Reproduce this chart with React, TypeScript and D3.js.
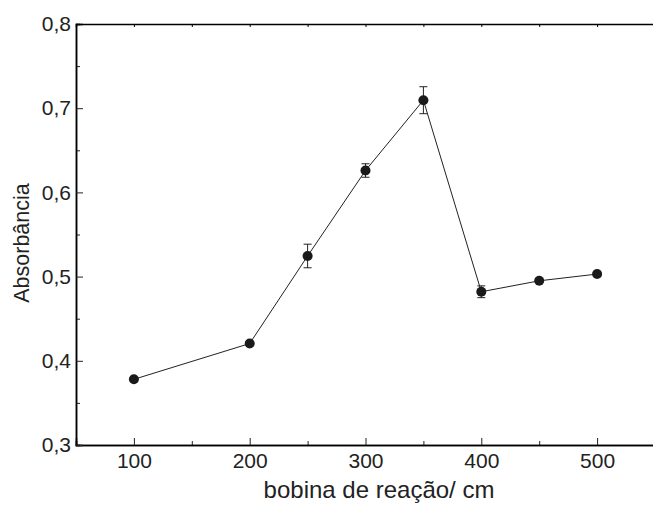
import * as d3 from 'd3';
import React, { useRef, useEffect } from 'react';

// coil length (cm) vs absorbance, with std deviation
const bobina = [100, 200, 250, 300, 350, 400, 450, 500];
const absorbancia = [0.378, 0.4205, 0.5245, 0.626, 0.7095, 0.482, 0.495, 0.503];
const erro = [0.002, 0.002, 0.014, 0.008, 0.016, 0.007, 0.002, 0.002];
const xTicks = [100, 200, 300, 400, 500];
const yTicks = [0.3, 0.4, 0.5, 0.6, 0.7, 0.8];

const width = 653;
const height = 506;
const marginLeft = 76;
const marginTop = 24;
const marginBottom = 61;
const plotRight = 655;
const font = 'Liberation Sans, Arial, sans-serif';

const App = () => {
  const gx = useRef<SVGGElement>(null);
  const gy = useRef<SVGGElement>(null);
  const gxTop = useRef<SVGGElement>(null);

  const x = d3.scaleLinear([50, 550], [marginLeft, plotRight]);
  const y = d3.scaleLinear([0.3, 0.8], [height - marginBottom, marginTop]);
  const line = d3.line<number>((d, i) => x(bobina[i]), (d) => y(d));

  useEffect(() => {
    const ax = d3.select(gx.current!);
    ax.selectAll('*').remove();
    // minor ticks
    ax.call(d3.axisBottom(x).tickValues(d3.range(150, 551, 100)).tickSize(-4).tickFormat(() => ''));
    ax.append('g').call(d3.axisBottom(x).tickValues(xTicks).tickSize(-7).tickPadding(8).tickFormat(d3.format('d')));
    ax.selectAll('.domain').attr('stroke-width', 1.5);
    ax.selectAll('line').attr('stroke', '#222');
    ax.selectAll('text').attr('font-family', font).attr('font-size', 21).attr('fill', '#222');

    const ay = d3.select(gy.current!);
    ay.selectAll('*').remove();
    ay.call(d3.axisLeft(y).tickValues(d3.range(0.35, 0.8, 0.1)).tickSize(-4).tickFormat(() => ''));
    ay.append('g').call(d3.axisLeft(y).tickValues(yTicks).tickSize(-7).tickPadding(5)
      .tickFormat((d) => d3.format('.1f')(d as number).replace('.', ',')));
    ay.selectAll('.domain').attr('stroke-width', 1.5);
    ay.selectAll('line').attr('stroke', '#222');
    ay.selectAll('text').attr('font-family', font).attr('font-size', 21).attr('fill', '#222');

    const at = d3.select(gxTop.current!);
    at.selectAll('*').remove();
    at.call(d3.axisTop(x).tickValues(d3.range(100, 551, 50)).tickSize(-3).tickFormat(() => ''));
    at.selectAll('.domain').attr('stroke-width', 1.5);
  }, []);

  return (
    <svg width={width} height={height} style={{ position: 'absolute', left: 0, top: 0 }}>
      <rect width={width} height={height} fill="white" />
      <g ref={gx} transform={`translate(0,${height - marginBottom})`} />
      <g ref={gy} transform={`translate(${marginLeft},0)`} />
      <g ref={gxTop} transform={`translate(0,${marginTop})`} />
      <path fill="none" stroke="#222" strokeWidth="1" d={line(absorbancia) ?? ''} />
      <g stroke="#222" strokeWidth="1">
        {bobina.map((b, i) => (
          <g key={b}>
            <line x1={x(b)} x2={x(b)} y1={y(absorbancia[i] - erro[i])} y2={y(absorbancia[i] + erro[i])} />
            <line x1={x(b) - 4} x2={x(b) + 4} y1={y(absorbancia[i] - erro[i])} y2={y(absorbancia[i] - erro[i])} />
            <line x1={x(b) - 4} x2={x(b) + 4} y1={y(absorbancia[i] + erro[i])} y2={y(absorbancia[i] + erro[i])} />
          </g>
        ))}
      </g>
      <g fill="#1a1a1a">
        {bobina.map((b, i) => (
          <circle key={b} cx={x(b)} cy={y(absorbancia[i])} r="5" />
        ))}
      </g>
      <text x={379} y={498} textAnchor="middle" fontFamily={font} fontSize={24} fill="#222">
        bobina de reação/ cm
      </text>
      <text transform="translate(29,243) rotate(-90)" textAnchor="middle" fontFamily={font} fontSize={21.5} fill="#222">
        Absorbância
      </text>
    </svg>
  );
};

export default App;
